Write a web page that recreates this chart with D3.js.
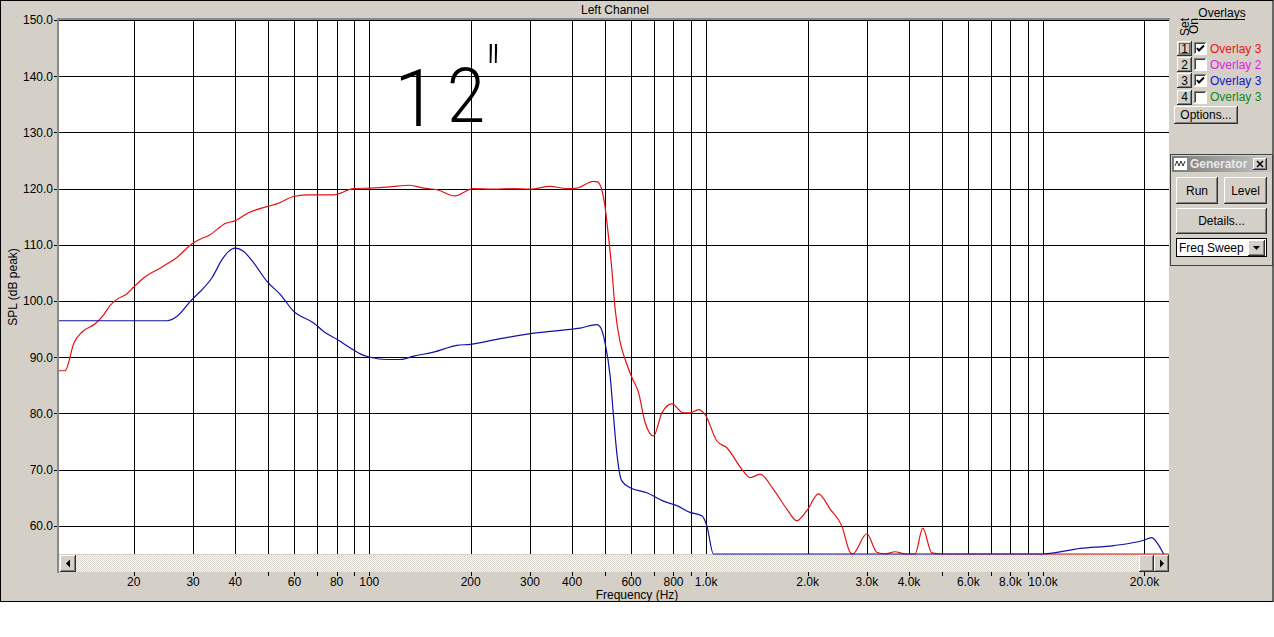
<!DOCTYPE html>
<html><head><meta charset="utf-8">
<script src="https://cdn.jsdelivr.net/npm/d3@7"></script>
<style>
body{margin:0;background:#fff;}
svg text{font-family:"Liberation Sans",Arial,sans-serif;}
</style></head><body>
<svg id="c" width="1274" height="637"></svg>
<script>
// ---------- data ----------
const chartTitle = "Left Channel";
const yAxisTitle = "SPL (dB peak)";
const xAxisTitle = "Frequency (Hz)";
const yTickValues = [60,70,80,90,100,110,120,130,140,150];
const xGridFreqs = [20,30,40,50,60,70,80,90,100,200,300,400,500,600,700,800,900,1000,2000,3000,4000,5000,6000,7000,8000,9000,10000,20000];
const xLabelFreqs = [20,30,40,60,80,100,200,300,400,600,800,1000,2000,3000,4000,6000,8000,10000,20000];
const xLabelTexts = ["20","30","40","60","80","100","200","300","400","600","800","1.0k","2.0k","3.0k","4.0k","6.0k","8.0k","10.0k","20.0k"];

const redFreq = [12,12.5,13.3,14.05,15.4,16.3,17.0,17.8,19.1,20.0,21.4,24.0,26.9,29.8,31.5,33.7,37.4,40.0,43.8,49.7,53.2,59.6,65.3,78.4,89.8,100.7,115,132,145,159,180,193,202,234,268,300,344,386,413,463,476,490,501,513,525,537,556,575,602,630,659,698,739,791,856,896,949,993,1076,1152,1276,1351,1446,1584,1736,1858,1990,2154,2333,2527,2675,2720,2999,3210,3400,3637,3900,4170,4395,4674,5000,9500,10000,23650];
const redDb   = [87.6,87.6,92.6,94.5,96.0,97.6,99.2,100.3,101.3,102.5,104.1,105.9,107.8,110.2,111.0,111.8,113.8,114.3,115.7,116.8,117.3,118.6,118.9,118.9,120.0,120.1,120.3,120.6,120.1,119.8,118.7,119.5,120.0,119.9,120.0,119.9,120.4,120.0,120.1,121.3,121.2,119.8,116.8,111.5,105.6,98.5,92.6,89.6,86.4,83.7,78.4,76.0,80.1,81.7,80.1,80.1,80.7,79.8,75.1,73.9,70.1,68.6,69.2,66.5,63.0,60.9,62.7,65.7,63.0,60.0,55.3,52.0,58.6,55.3,52.0,55.4,52.0,54.8,59.6,55.2,50.0,50.0,55.0,55.0];

const blueFreq = [12,25.1,26.9,29.8,31.5,34.1,36.6,38.2,40.0,42.4,45.4,49.7,54.4,59.6,68.4,73.2,80.2,89.8,94,100.7,112.9,123.6,135.4,155.2,182,199.4,244.7,300.4,368.8,422.8,474,487,501,519,531,543,562,595,667,747,819,896,971,1005,1051,10000,12900,16200,19800,21000,21800,22800];
const blueDb   = [96.5,96.5,97.3,100.3,101.7,104.1,107.4,108.8,109.4,108.8,106.8,103.5,101.2,98.2,96.1,94.6,93.2,91.3,90.6,90.0,89.6,89.6,90.2,90.9,92.1,92.3,93.3,94.2,94.8,95.2,95.8,95.2,92.6,86.6,79.5,73.0,68.0,66.8,65.9,64.4,63.6,62.4,61.8,60.0,55.0,55.0,56.0,56.5,57.4,57.9,57.0,55.0];

const overlaySets   = ["1","2","3","4"];
const overlayNames  = ["Overlay 3","Overlay 2","Overlay 3","Overlay 3"];
const overlayColors = ["#ee1111","#e020e0","#1515c8","#108a10"];
const overlayOn     = [true,false,true,false];

const annotation = ["1","2","\""];

// ---------- drawing ----------
const svg = d3.select("#c");
const PANEL = "#D4D0C8";
const plot = {l:59, t:20, r:1169, b:554};

svg.append("rect").attr("x",0).attr("y",0).attr("width",1274).attr("height",602).attr("fill",PANEL);
svg.append("rect").attr("x",0.5).attr("y",0.5).attr("width",1272.5).attr("height",601).attr("fill","none").attr("stroke","#000");

const xs = d3.scaleLog().domain([12, 23650]).range([plot.l, plot.r]);
const ys = d3.scaleLinear().domain([55, 150]).range([plot.b, plot.t]).clamp(true);

// plot background
svg.append("rect").attr("x",plot.l).attr("y",plot.t).attr("width",plot.r-plot.l).attr("height",plot.b-plot.t).attr("fill","#fff");

// grid
const grid = svg.append("g").attr("stroke","#000").attr("stroke-width",1).attr("shape-rendering","crispEdges");
xGridFreqs.forEach(f=>{
  const x = Math.round(xs(f))+0.5;
  grid.append("line").attr("x1",x).attr("x2",x).attr("y1",plot.t).attr("y2",plot.b);
});
yTickValues.forEach(v=>{
  const y = Math.round(ys(v))+0.5;
  grid.append("line").attr("x1",plot.l).attr("x2",plot.r).attr("y1",y).attr("y2",y);
});

// sunken border
svg.append("rect").attr("x",57).attr("y",18).attr("width",2).attr("height",573-18).attr("fill","#8a8a8a");
svg.append("rect").attr("x",57).attr("y",18).attr("width",plot.r-57+1).attr("height",2).attr("fill","#8a8a8a");

// handwritten annotation
const annFont = "Roboto, 'Open Sans', sans-serif";
svg.append("text").attr("x",416).attr("y",126).attr("font-size",79).attr("text-anchor","middle")
  .style("font-family",annFont).attr("font-weight",300).text(annotation[0]);
svg.append("text").attr("x",466).attr("y",122).attr("font-size",76).attr("text-anchor","middle")
  .attr("textLength",38).attr("lengthAdjust","spacingAndGlyphs")
  .style("font-family",annFont).attr("font-weight",300).text(annotation[1]);
svg.append("text").attr("x",493).attr("y",108).attr("font-size",86).attr("text-anchor","middle")
  .attr("textLength",13).attr("lengthAdjust","spacingAndGlyphs")
  .style("font-family",annFont).attr("font-weight",300).text(annotation[2]);

// curves
svg.append("clipPath").attr("id","pc").append("rect").attr("x",plot.l).attr("y",plot.t).attr("width",plot.r-plot.l).attr("height",plot.b-plot.t+1);
const line = d3.line().x(d=>xs(d[0])).y(d=>ys(d[1])).curve(d3.curveMonotoneX);
const curves = svg.append("g").attr("clip-path","url(#pc)").attr("fill","none").attr("stroke-width",1.2);
curves.append("path").attr("d", line(d3.zip(redFreq, redDb))).attr("stroke","#e81010");
curves.append("path").attr("d", line(d3.zip(blueFreq, blueDb))).attr("stroke","#1010a8");

// y labels and ticks
yTickValues.forEach(v=>{
  const y = ys(v);
  svg.append("text").attr("x",53).attr("y",y+4.3).attr("text-anchor","end").attr("font-size",12).text(v.toFixed(1));
  svg.append("line").attr("x1",54).attr("x2",57).attr("y1",Math.round(y)+0.5).attr("y2",Math.round(y)+0.5).attr("stroke","#000").attr("shape-rendering","crispEdges");
});
svg.append("text").attr("transform","translate(17,287) rotate(-90)").attr("text-anchor","middle").attr("font-size",12).text(yAxisTitle);
svg.append("text").attr("x",615).attr("y",14).attr("text-anchor","middle").attr("font-size",12).text(chartTitle);

// scrollbar
const defs = svg.append("defs");
const pat = defs.append("pattern").attr("id","chk").attr("width",2).attr("height",2).attr("patternUnits","userSpaceOnUse");
pat.append("rect").attr("width",2).attr("height",2).attr("fill","#fff");
pat.append("rect").attr("x",0).attr("y",0).attr("width",1).attr("height",1).attr("fill",PANEL);
pat.append("rect").attr("x",1).attr("y",1).attr("width",1).attr("height",1).attr("fill",PANEL);
svg.append("rect").attr("x",59).attr("y",555).attr("width",plot.r-59).attr("height",17).attr("fill","url(#chk)");

function button(x,y,w,h){
  const g = svg.append("g").attr("shape-rendering","crispEdges");
  g.append("rect").attr("x",x).attr("y",y).attr("width",w).attr("height",h).attr("fill",PANEL);
  g.append("path").attr("d",`M${x+w-0.5},${y} V${y+h-0.5} H${x}`).attr("stroke","#303030").attr("fill","none");
  g.append("path").attr("d",`M${x+w-1.5},${y+1} V${y+h-1.5} H${x+1}`).attr("stroke","#808080").attr("fill","none");
  g.append("path").attr("d",`M${x+0.5},${y+h-1} V${y+0.5} H${x+w-1}`).attr("stroke","#fff").attr("fill","none");
  return g;
}
button(60,555,16,17);
svg.append("path").attr("d","M66,563.5 L70,559.5 L70,567.5 Z").attr("fill","#000");
button(1139,555,15,17);
button(1154,555,15,17);
svg.append("path").attr("d","M1164,563.5 L1160,559.5 L1160,567.5 Z").attr("fill","#000");

// x ticks and labels
xGridFreqs.forEach(f=>{
  const x = Math.round(xs(f))+0.5;
  svg.append("line").attr("x1",x).attr("x2",x).attr("y1",572).attr("y2",576).attr("stroke","#000").attr("shape-rendering","crispEdges");
});
xLabelFreqs.forEach((f,i)=>{
  svg.append("text").attr("x",xs(f)).attr("y",585.5).attr("text-anchor","middle").attr("font-size",12).text(xLabelTexts[i]);
});
svg.append("text").attr("x",637).attr("y",599).attr("text-anchor","middle").attr("font-size",12).text(xAxisTitle);

// right panel: overlays
svg.append("text").attr("x",1222).attr("y",17).attr("text-anchor","middle").attr("font-size",12).text("Overlays");
svg.append("line").attr("x1",1199).attr("x2",1245).attr("y1",19.5).attr("y2",19.5).attr("stroke","#000");
svg.append("text").attr("transform","translate(1189,18) rotate(-90)").attr("text-anchor","end").attr("font-size",12).text("Set");
svg.append("text").attr("transform","translate(1197.5,18) rotate(-90)").attr("text-anchor","end").attr("font-size",12).text("On");

overlaySets.forEach((s,i)=>{
  const cy = 48 + i*16.2;
  button(1177, Math.round(cy-7), 15, 15);
  svg.append("text").attr("x",1184.5).attr("y",cy+4.5).attr("text-anchor","middle").attr("font-size",12).text(s);
  if(i===0){
    svg.append("rect").attr("x",1179.5).attr("y",Math.round(cy-7)+2.5).attr("width",10).attr("height",10).attr("fill","none").attr("stroke","#000").attr("stroke-dasharray","1,1");
  }
  const bx = 1194, by = Math.round(cy-6);
  const cb = svg.append("g").attr("shape-rendering","crispEdges");
  cb.append("rect").attr("x",bx).attr("y",by).attr("width",13).attr("height",13).attr("fill","#fff");
  cb.append("path").attr("d",`M${bx+0.5},${by+12} V${by+0.5} H${bx+12}`).attr("stroke","#808080").attr("fill","none");
  cb.append("path").attr("d",`M${bx+1.5},${by+11} V${by+1.5} H${bx+11}`).attr("stroke","#404040").attr("fill","none");
  cb.append("path").attr("d",`M${bx+12.5},${by} V${by+12.5} H${bx}`).attr("stroke","#fff").attr("fill","none");
  if(overlayOn[i]){
    svg.append("path").attr("d",`M${bx+3},${by+6} L${bx+5},${by+8.5} L${bx+10},${by+3.5}`).attr("stroke","#000").attr("stroke-width",2).attr("fill","none");
  }
  svg.append("text").attr("x",1210).attr("y",cy+4.5).attr("font-size",12).attr("fill",overlayColors[i]).text(overlayNames[i]);
});
button(1174,106,64,18);
svg.append("text").attr("x",1206).attr("y",119).attr("text-anchor","middle").attr("font-size",12).text("Options...");

// generator window
svg.append("rect").attr("x",1170.5).attr("y",154.5).attr("width",102).attr("height",111).attr("fill",PANEL).attr("stroke","#404040");
const grad = defs.append("linearGradient").attr("id","tb").attr("x1",0).attr("x2",1).attr("y1",0).attr("y2",0);
grad.append("stop").attr("offset",0).attr("stop-color","#7a7a7a");
grad.append("stop").attr("offset",1).attr("stop-color","#c4c4c4");
svg.append("rect").attr("x",1172).attr("y",156).attr("width",100).attr("height",16).attr("fill","url(#tb)");
svg.append("rect").attr("x",1174).attr("y",158).attr("width",13).attr("height",12).attr("fill","#fff");
svg.append("path").attr("d","M1175,166 L1177,161 L1179,166 L1181,161 L1183,166 L1185,161").attr("stroke","#000").attr("fill","none").attr("stroke-width",0.8);
svg.append("text").attr("x",1190).attr("y",168).attr("font-size",12).attr("font-weight","bold").attr("fill","#e8e8e8").text("Generator");
button(1253,158,14,12);
svg.append("path").attr("d","M1257,161 L1263,167 M1263,161 L1257,167").attr("stroke","#000").attr("stroke-width",1.6);

button(1176,177,42,27);
svg.append("text").attr("x",1197).attr("y",195).attr("text-anchor","middle").attr("font-size",12).text("Run");
button(1224,177,43,27);
svg.append("text").attr("x",1245.5).attr("y",195).attr("text-anchor","middle").attr("font-size",12).text("Level");
button(1176,208,91,26);
svg.append("text").attr("x",1221.5).attr("y",225).attr("text-anchor","middle").attr("font-size",12).text("Details...");
svg.append("rect").attr("x",1176.5).attr("y",238.5).attr("width",90).attr("height",18).attr("fill","#fff").attr("stroke","#000");
svg.append("text").attr("x",1179).attr("y",252).attr("font-size",12).text("Freq Sweep");
button(1248,240,17,16);
svg.append("path").attr("d","M1253,246 L1260,246 L1256.5,250 Z").attr("fill","#000");
</script>
</body></html>
